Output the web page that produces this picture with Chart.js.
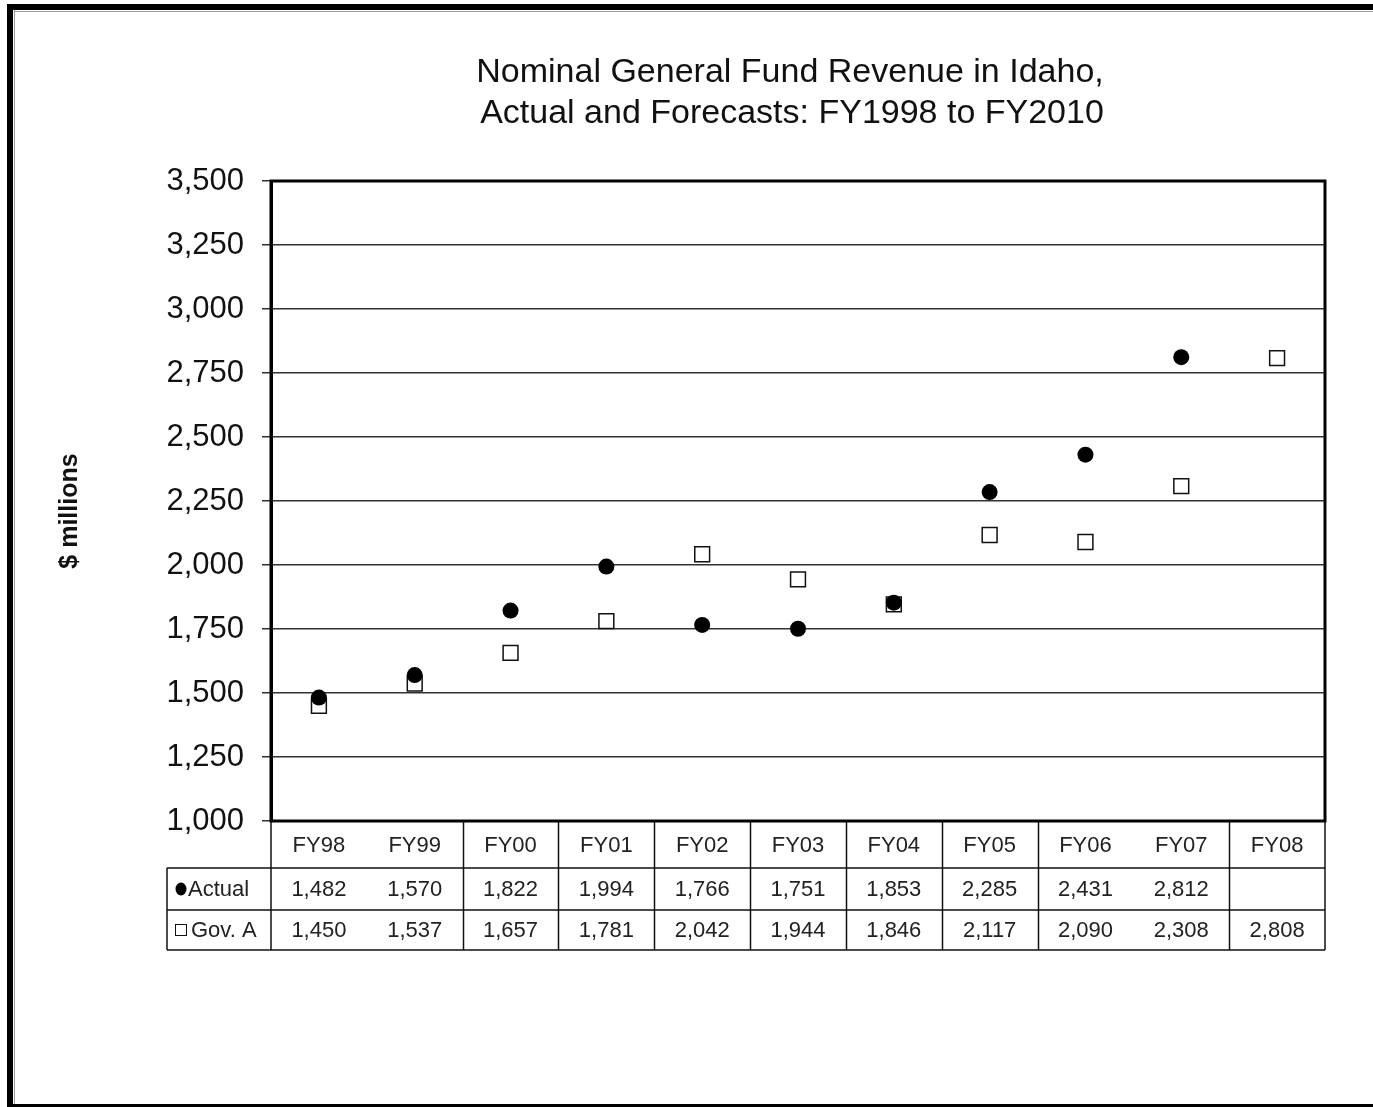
<!DOCTYPE html>
<html>
<head>
<meta charset="utf-8">
<title>Nominal General Fund Revenue in Idaho</title>
<script src="https://cdn.jsdelivr.net/npm/chart.js@4.4.1/dist/chart.umd.min.js"></script>
<style>
  html, body { margin: 0; padding: 0; background: #fff; }
  #wrap { position: relative; width: 1373px; height: 1107px; }
</style>
</head>
<body>
<div id="wrap"><canvas id="chart"></canvas></div>
<script>
// Fiscal years shown on the category axis / table header
const fiscalYears = ['FY98', 'FY99', 'FY00', 'FY01', 'FY02', 'FY03', 'FY04', 'FY05', 'FY06', 'FY07', 'FY08'];
// Actual general fund revenue, $ millions
const actualRevenue = [1482, 1570, 1822, 1994, 1766, 1751, 1853, 2285, 2431, 2812, null];
// Governor's forecast, $ millions
const govForecast = [1450, 1537, 1657, 1781, 2042, 1944, 1846, 2117, 2090, 2308, 2808];
// Value axis settings
const yMin = 1000, yMax = 3500, yStep = 250;
const titleLines = ['Nominal General Fund Revenue in Idaho,', 'Actual and Forecasts: FY1998 to FY2010'];
const yAxisLabel = '$ millions';
const rowLabels = ['Actual', 'Gov. A'];

const FONT = '"Liberation Sans", Arial, sans-serif';
const fmt = v => (v === null || v === undefined) ? '' : v.toLocaleString('en-US');

// Page frame, title, axis label, plot frame and data table
const decorations = {
  id: 'decorations',
  beforeDraw(chart) {
    const ctx = chart.ctx;
    ctx.save();
    ctx.fillStyle = '#fff';
    ctx.fillRect(0, 0, chart.width, chart.height);
    ctx.restore();
  },
  afterDraw(chart) {
    const ctx = chart.ctx;
    const area = chart.chartArea;
    const xs = chart.scales.x;
    ctx.save();

    // outer frame
    ctx.fillStyle = '#000';
    ctx.fillRect(7, 4, chart.width - 7, 6);
    ctx.fillRect(7, 4, 6, chart.height - 4);
    ctx.fillRect(7, chart.height - 3, chart.width - 7, 3);
    ctx.fillStyle = '#9a9a9a';
    ctx.fillRect(14, 10, 1, chart.height - 13);
    ctx.fillRect(14, 11, chart.width - 14, 1);

    // title
    ctx.fillStyle = '#111';
    ctx.font = '34px ' + FONT;
    ctx.textAlign = 'center';
    ctx.textBaseline = 'middle';
    ctx.fillText(titleLines[0], 790, 73);
    ctx.fillText(titleLines[1], 792, 114);

    // vertical axis label
    ctx.save();
    ctx.translate(70, 511);
    ctx.rotate(-Math.PI / 2);
    ctx.font = 'bold 25px ' + FONT;
    ctx.fillStyle = '#111';
    ctx.fillText(yAxisLabel, 0, 0);
    ctx.restore();

    // plot frame
    ctx.strokeStyle = '#000';
    ctx.lineWidth = 3;
    ctx.strokeRect(area.left, area.top, area.right - area.left, area.bottom - area.top);

    // data table below the plot
    const colW = (area.right - area.left) / fiscalYears.length;
    const headerBottom = area.bottom + 47;
    const row1Bottom = headerBottom + 42;
    const row2Bottom = row1Bottom + 40;
    const labelLeft = 167;

    ctx.strokeStyle = '#111';
    ctx.lineWidth = 1.5;
    ctx.beginPath();
    [headerBottom, row1Bottom, row2Bottom].forEach(y => {
      ctx.moveTo(labelLeft, y); ctx.lineTo(area.right, y);
    });
    ctx.moveTo(labelLeft, headerBottom); ctx.lineTo(labelLeft, row2Bottom);
    ctx.moveTo(area.left, area.bottom); ctx.lineTo(area.left, row2Bottom);
    ctx.moveTo(area.right, area.bottom); ctx.lineTo(area.right, row2Bottom);
    // interior column rules (not every boundary is ruled)
    for (let k = 1; k < fiscalYears.length; k++) {
      if (k === 1 || k === 9) continue;
      const x = Math.round(area.left + k * colW) + 0.5;
      ctx.moveTo(x, area.bottom); ctx.lineTo(x, row2Bottom);
    }
    ctx.stroke();

    ctx.fillStyle = '#222';
    ctx.font = '22px ' + FONT;
    ctx.textAlign = 'center';
    ctx.textBaseline = 'middle';
    const yHead = (area.bottom + headerBottom) / 2 + 1;
    const yRow1 = (headerBottom + row1Bottom) / 2 + 1;
    const yRow2 = (row1Bottom + row2Bottom) / 2 + 1;
    fiscalYears.forEach((fy, i) => {
      const cx = xs.getPixelForValue(i);
      ctx.fillText(fy, cx, yHead);
      ctx.fillText(fmt(actualRevenue[i]), cx, yRow1);
      ctx.fillText(fmt(govForecast[i]), cx, yRow2);
    });

    // row legend keys
    ctx.fillStyle = '#000';
    ctx.beginPath();
    ctx.ellipse(181, yRow1 - 1, 5.5, 6.5, 0, 0, Math.PI * 2);
    ctx.fill();
    ctx.strokeStyle = '#111';
    ctx.lineWidth = 1;
    ctx.strokeRect(175.5, yRow2 - 6.5, 11, 11);
    ctx.fillStyle = '#222';
    ctx.textAlign = 'left';
    ctx.fillText(rowLabels[0], 188, yRow1);
    ctx.fillText(rowLabels[1], 191, yRow2);

    ctx.restore();
  }
};

new Chart(document.getElementById('chart'), {
  type: 'line',
  data: {
    labels: fiscalYears,
    datasets: [
      {
        label: 'Actual',
        data: actualRevenue,
        showLine: false,
        pointStyle: 'circle',
        pointRadius: 8,
        pointHoverRadius: 8,
        pointBackgroundColor: '#000',
        pointBorderColor: '#000',
        pointBorderWidth: 0
      },
      {
        label: 'Gov. A',
        data: govForecast,
        showLine: false,
        pointStyle: 'rect',
        pointRadius: 10.5,
        pointHoverRadius: 10.5,
        pointBackgroundColor: '#fff',
        pointBorderColor: '#111',
        pointBorderWidth: 1.5
      }
    ]
  },
  options: {
    responsive: true,
    maintainAspectRatio: false,
    animation: false,
    devicePixelRatio: 1,
    layout: { padding: { top: 181, right: 48, bottom: 286, left: 0 } },
    plugins: {
      legend: { display: false },
      title: { display: false },
      tooltip: { enabled: false }
    },
    scales: {
      x: {
        type: 'category',
        offset: true,
        display: false
      },
      y: {
        min: yMin,
        max: yMax,
        afterFit(scale) { scale.width = 271; },
        border: { display: true, color: '#000', width: 3 },
        grid: {
          color: '#333',
          lineWidth: 1.5,
          drawTicks: true,
          tickLength: 9,
          tickColor: '#333'
        },
        ticks: {
          stepSize: yStep,
          padding: 18,
          color: '#111',
          font: { family: FONT, size: 31 },
          callback: v => v.toLocaleString('en-US')
        }
      }
    }
  },
  plugins: [decorations]
});
</script>
</body>
</html>
